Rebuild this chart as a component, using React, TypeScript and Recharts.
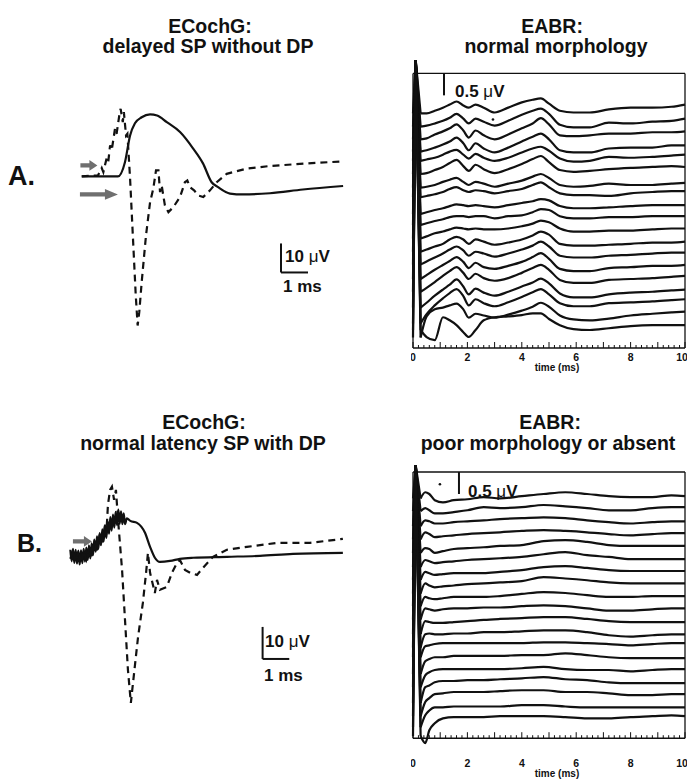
import React from "react";
import { LineChart, Line, XAxis, YAxis, ReferenceLine, ReferenceDot } from "recharts";

const FONT = '"Liberation Sans", Arial, Helvetica, sans-serif';
const INK = "#111";
const ARROW_GREY = "#6f6f6f";

// ECochG panel A: [time ms, amplitude uV]
const ecogASolid: [number, number][] = [
	[0.25, 0], [1.59, 0], [1.85, 4.9], [2.04, 14.1], [2.22, 18.3], [2.47, 20.4], [2.78, 21.4],
	[3.04, 21.0], [3.4, 18.7], [3.89, 15.3], [4.37, 9.7], [4.74, 4.5], [5.06, -2.0], [5.3, -3.7],
	[5.74, -5.9], [6.22, -6.2], [7.22, -5.8], [8.44, -4.5], [9.93, -3.3],
];
const ecogADashed: [number, number][] = [
	[0.25, 0], [0.6, 0.3], [0.85, 0.3], [0.99, 2.9], [1.05, 1.5], [1.17, 6.2], [1.23, 4.9],
	[1.3, 10.7], [1.36, 9], [1.48, 16.4], [1.54, 14.7], [1.64, 21], [1.69, 23.3], [1.77, 18.7],
	[1.81, 22.2], [1.89, 14.1], [1.94, 14.7], [2.04, -0.7], [2.16, -23.8], [2.25, -41],
	[2.32, -51.4], [2.38, -46.8], [2.47, -36.4], [2.63, -20.3], [2.78, -8.9], [2.9, -4.2],
	[3.0, 2.1], [3.09, 2.1], [3.15, -5.4], [3.21, -3.1], [3.33, -10], [3.46, -12.3],
	[3.64, -10.6], [3.89, -7.1], [4.07, -2.0], [4.16, -1.4], [4.26, -3.7], [4.41, -4.8],
	[4.57, -6.6], [4.75, -7.1], [5.0, -4.8], [5.25, -2.0], [5.62, 0.9], [6.36, 2.7],
	[7.22, 3.6], [8.46, 4.4], [9.94, 5.2],
];

// ECochG panel B
const ecogBSolid: [number, number][] = [
	[0.2, 1.6], [0.25, -2.0], [0.3, 1.9], [0.35, -2.5], [0.4, 1.6], [0.45, -2.7], [0.5, 1.3],
	[0.55, -3.0], [0.6, 1.4], [0.65, -2.6], [0.7, 1.9], [0.75, -2.1], [0.8, 2.3], [0.85, -1.6],
	[0.9, 2.8], [0.95, -1.1], [1.0, 3.6], [1.05, -0.1], [1.1, 4.7], [1.15, 1.0], [1.2, 5.8],
	[1.25, 1.9], [1.3, 6.8], [1.35, 3.0], [1.4, 8.0], [1.45, 4.2], [1.5, 9.3], [1.55, 5.3],
	[1.6, 10.5], [1.65, 6.6], [1.7, 11.8], [1.75, 7.6], [1.8, 12.6], [1.85, 8.5], [1.9, 13.4],
	[1.95, 9.3], [2.0, 14.1], [2.05, 9.7], [2.1, 13.6], [2.15, 9.6], [2.2, 13.0], [2.25, 9.6],
	[2.32, 11.4], [2.45, 10.6], [2.7, 10.0], [3.0, 6.9], [3.19, 2.5], [3.37, -0.9], [3.56, -2.2],
	[3.94, -1.9], [4.31, -1.25], [4.8, -0.9], [6.07, -0.6], [7.31, -0.3], [8.55, 0.3], [10.42, 0.6],
];
const ecogBDashed: [number, number][] = [
	[0.2, -1.2], [0.3, 1.4], [0.4, -2.2], [0.5, 1.5], [0.6, -2.4], [0.7, 1.2], [0.8, -1.4],
	[0.9, 2.2], [1.0, -0.4], [1.1, 3.9], [1.2, 1.4], [1.3, 6.3], [1.4, 3.9], [1.5, 9.2], [1.55, 6.4],
	[1.61, 15.6], [1.69, 20.3], [1.76, 21.3], [1.84, 17.2], [1.91, 20.3], [1.99, 10.9],
	[2.14, -4.7], [2.25, -20.3], [2.36, -35.9], [2.47, -46.25], [2.55, -40], [2.74, -25.6],
	[2.92, -15], [3.04, -5.6], [3.11, 0.6], [3.19, -5.6], [3.37, -11.9], [3.45, -7.8],
	[3.56, -10.9], [3.82, -10], [4.01, -5.6], [4.2, -2.5], [4.31, -1.6], [4.5, -4.7],
	[4.69, -5.6], [4.95, -6.25], [5.17, -4.1], [5.55, -0.6], [6.07, 1.6], [6.82, 2.5],
	[7.95, 3.75], [9.19, 3.75], [10.42, 5.0],
];

// EABR panel A: sample times (ms), stimulus artefact peak (uV), trace baselines (uV) and deflections (uV, from t = 0.28 on)
const eabrATimes = [0, 0.1, 0.28, 0.5, 0.8, 1.1, 1.35, 1.6, 1.85, 2.05, 2.3, 2.6, 3.0, 3.5, 4.0, 4.4, 4.7, 5.0, 5.4, 5.9, 6.5, 7.2, 8.0, 8.8, 9.5, 10];
const eabrAArtifact = 6.55;
const eabrABaselines = [5.54, 5.22, 4.93, 4.61, 4.4, 4.12, 3.76, 3.57, 3.25, 3.0, 2.72, 2.42, 2.17, 1.89, 1.64, 1.33, 1.11, 0.83, 0.52];
const eabrATraces = [
	[-.2, -.2, -.14, -.07, 0, .07, -.02, -.07, 0, -.07, -.18, -.07, .05, .11, .14, .02, -.14, -.18, -.18, -.11, -.07, -.07, -.05, 0],
	[-.18, -.16, -.11, -.05, .02, .11, 0, -.11, 0, -.07, -.16, -.05, .09, .18, .23, .11, -.14, -.2, -.2, -.09, -.11, -.07, -.05, 0],
	[-.18, -.16, -.07, 0, .07, .16, .02, -.14, .02, -.09, -.18, -.07, .07, .18, .3, .16, -.09, -.11, -.09, -.05, -.05, -.02, -.02, 0],
	[-.14, -.11, -.05, .02, .09, .18, .05, -.11, .05, -.07, -.16, -.05, .09, .2, .27, .14, -.11, -.16, -.16, -.07, -.05, -.05, 0, 0],
	[-.14, -.11, -.07, 0, .07, .11, 0, -.09, .02, -.07, -.14, -.07, .05, .14, .18, .09, -.09, -.16, -.14, -.05, -.07, -.05, -.02, 0],
	[-.16, -.14, -.07, 0, .09, .16, .02, -.09, .05, -.05, -.14, -.05, .07, .18, .25, .11, -.07, -.11, -.09, -.05, -.02, 0, .02, 0],
	[-.11, -.09, -.05, .02, .07, .11, .02, -.05, .02, -.02, -.09, -.02, .05, .14, .2, .11, -.05, -.09, -.07, -.02, -.05, -.05, -.02, 0],
	[-.14, -.11, -.07, -.02, .05, .09, .02, -.02, .02, 0, -.05, 0, .05, .14, .2, .09, -.05, -.09, -.09, -.11, -.05, -.02, 0, 0],
	[-.2, -.16, -.11, -.07, -.02, .02, 0, -.02, 0, -.02, -.05, 0, .05, .09, .14, .11, -.02, -.07, -.07, -.05, -.02, 0, 0, 0],
	[-.2, -.16, -.11, -.07, -.02, 0, 0, -.02, 0, 0, -.05, 0, .02, .09, .16, .14, 0, -.05, -.05, -.02, -.02, 0, 0, 0],
	[-.23, -.18, -.11, -.07, -.02, .02, 0, -.02, 0, -.02, -.02, 0, .05, .11, .18, .14, 0, -.07, -.07, -.05, -.05, -.02, 0, 0],
	[-.23, -.18, -.11, -.05, .05, .11, .05, -.05, .05, 0, -.07, -.02, .05, .14, .23, .16, -.05, -.09, -.09, -.07, -.05, -.02, -.02, 0],
	[-.27, -.2, -.11, -.02, .07, .14, .05, -.07, .02, -.02, -.09, -.02, .07, .16, .25, .14, -.07, -.11, -.11, -.07, -.05, -.02, 0, 0],
	[-.32, -.23, -.11, 0, .09, .18, .07, -.07, .05, -.05, -.09, -.02, .07, .18, .27, .14, -.09, -.14, -.14, -.07, -.05, -.02, -.02, 0],
	[-.36, -.27, -.14, 0, .11, .2, .07, -.07, .05, -.05, -.11, -.05, .07, .18, .25, .14, -.09, -.16, -.16, -.09, -.07, -.05, -.02, 0],
	[-.41, -.3, -.14, 0, .11, .23, .07, -.11, .02, -.07, -.14, -.05, .07, .16, .25, .14, -.09, -.18, -.18, -.11, -.07, -.05, -.02, 0],
	[-.55, -.34, -.14, .02, .14, .23, .07, -.14, 0, -.09, -.16, -.07, .05, .16, .23, .11, -.09, -.16, -.16, -.09, -.07, -.05, -.02, 0],
	[-.59, -.11, .05, .09, .14, .18, .05, -.14, -.05, -.09, -.14, -.07, .02, .11, .2, .11, -.09, -.18, -.2, -.16, -.09, -.05, -.02, 0],
	[-.11, -.27, -.34, .18, .11, 0, -.16, -.27, -.11, .11, .18, .2, .23, .27, .27, .14, 0, -.09, -.11, -.07, -.02, 0, 0, 0],
];

// EABR panel B
const eabrBTimes = [0, 0.1, 0.28, 0.45, 0.6, 0.8, 1.1, 1.5, 2.0, 2.6, 3.2, 4.0, 4.8, 5.6, 6.4, 7.2, 8.0, 8.8, 9.5, 10];
const eabrBArtifact = 6.2;
const eabrBBaselines = [5.5, 5.25, 4.93, 4.66, 4.39, 4.07, 3.8, 3.52, 3.23, 2.95, 2.64, 2.36, 2.16, 1.82, 1.57, 1.25, 1.0, 0.7, 0.5];
const eabrBTraces = [
	[-.05, .09, .05, -.09, -.14, -.09, -.07, -.02, -.05, 0, .05, .09, .05, 0, -.02, -.02, .02, 0],
	[-.09, -.02, -.07, -.14, -.14, -.11, -.07, 0, -.02, 0, .05, .02, -.02, -.07, -.07, -.02, 0, 0],
	[-.11, .02, 0, -.05, -.05, -.02, 0, .02, .05, .07, .09, .07, .02, -.02, -.05, -.02, 0, 0],
	[-.14, .02, -.02, -.09, -.07, -.05, -.02, 0, .02, .05, .07, .05, .02, -.02, -.05, -.02, 0, 0],
	[-.18, -.07, -.09, -.18, -.14, -.09, -.07, -.05, -.02, 0, .09, .11, .07, 0, -.02, -.02, -.02, -.02],
	[-.18, -.02, -.05, -.09, -.07, -.05, -.02, 0, .02, .05, .11, .16, .09, .05, 0, 0, 0, 0],
	[-.2, -.02, -.05, -.09, -.07, -.05, -.05, -.05, -.02, .02, .09, .11, .07, .02, 0, 0, 0, 0],
	[-.23, 0, -.05, -.09, -.07, -.05, -.02, 0, .02, .05, .14, .11, .07, .02, 0, 0, 0, 0],
	[-.23, -.02, -.05, -.07, -.05, -.02, -.02, -.02, 0, .05, .09, .07, .02, -.02, -.02, 0, 0, 0],
	[-.25, 0, -.02, -.05, -.02, 0, 0, .02, .02, .05, .07, .05, 0, -.05, -.05, -.02, 0, 0],
	[-.27, .02, 0, -.02, -.02, 0, .02, .05, .07, .09, .11, .11, .07, .02, 0, 0, 0, 0],
	[-.3, 0, .02, 0, 0, .02, .02, .05, .05, .07, .09, .09, .05, -.02, -.05, -.02, 0, 0],
	[-.32, -.07, -.05, -.02, 0, 0, 0, 0, 0, 0, .02, .02, 0, -.02, -.05, -.02, 0, 0],
	[-.36, -.07, -.02, .02, .02, .05, .05, .05, .05, .07, .07, .11, .07, .02, 0, 0, 0, 0],
	[-.41, -.14, -.07, -.02, 0, 0, 0, 0, 0, .02, .05, 0, -.02, -.02, -.05, -.02, 0, 0],
	[-.45, -.09, -.05, .02, .05, .05, .07, .07, .09, .11, .14, .09, .07, .02, 0, 0, 0, 0],
	[-.5, -.18, -.09, 0, .02, .05, .05, .05, .07, .09, .09, .05, .05, .02, -.02, -.02, 0, 0],
	[-.45, -.18, -.07, 0, 0, .02, .02, .02, .02, .05, .05, .02, 0, 0, 0, 0, 0, 0],
	[-.45, -.61, -.32, -.16, -.05, -.02, -.02, -.02, 0, 0, 0, -.02, -.05, -.05, -.02, 0, .02, 0],
];

const timeLabels = [0, 2, 4, 6, 8, 10];
const timeTicks = Array.from({ length: 51 }, (_, i) => i / 5);

const pairs = (pts: [number, number][]) => pts.map(([t, v]) => ({ t, v }));
// a trace leaves its starting level, runs up to the artefact peak and comes back down
const buildTrace = (times: number[], artifact: number, base: number, defl: number[]) =>
	times.map((t, i) => ({
		t,
		v: i === 1 ? artifact : +(base + defl[i === 0 ? 0 : i - 2]).toFixed(3),
	}));

const Arrow = ({ cx, cy, len, head, half, shaft }: any) => {
	const x0 = cx - len;
	const xh = cx - head;
	const pts = [
		[x0, cy - shaft], [xh, cy - shaft], [xh, cy - half], [cx, cy],
		[xh, cy + half], [xh, cy + shaft], [x0, cy + shaft],
	];
	return <polygon points={pts.map((p) => p.join(",")).join(" ")} fill={ARROW_GREY} />;
};

const TimeTick = (props: any) => {
	const { x, y, payload, shift, labelGap } = props;
	const val = payload.value as number;
	const whole = Math.abs(val - Math.round(val)) < 1e-6;
	const base = y - shift;
	const showLabel = whole && timeLabels.includes(Math.round(val));
	return (
		<g>
			<line x1={x} x2={x} y1={base} y2={base - (whole ? 6 : 3)} stroke={INK} strokeWidth={1} />
			{showLabel && (
				<text
					x={x - (Math.round(val) === 10 ? 3 : 0)}
					y={base + labelGap}
					textAnchor="middle"
					fontFamily={FONT}
					fontWeight="bold"
					fontSize={10.5}
					fill={INK}
				>
					{Math.round(val)}
				</text>
			)}
		</g>
	);
};

const EcogPanel = ({ solid, dashed, xMax, yDomain, width, height, arrows, bar }: any) => (
	<LineChart width={width} height={height} margin={{ top: 0, right: 0, bottom: 0, left: 0 }}>
		<XAxis type="number" dataKey="t" domain={[0, xMax]} hide />
		<YAxis type="number" domain={yDomain} hide />
		<Line data={pairs(solid)} dataKey="v" type="monotone" stroke={INK} strokeWidth={2.2} dot={false} isAnimationActive={false} />
		<Line data={pairs(dashed)} dataKey="v" type="linear" stroke={INK} strokeWidth={2.2} strokeDasharray="7 5" dot={false} isAnimationActive={false} />
		<ReferenceLine segment={[{ x: bar.t, y: bar.v }, { x: bar.t, y: bar.v + 10 }]} stroke={INK} strokeWidth={2} />
		<ReferenceLine segment={[{ x: bar.t, y: bar.v }, { x: bar.t + 1, y: bar.v }]} stroke={INK} strokeWidth={2} />
		{arrows.map((a: any, i: number) => (
			<ReferenceDot key={i} x={a.t} y={a.v} r={0} shape={(p: any) => <Arrow cx={p.cx} cy={p.cy} len={a.len} head={a.head} half={5.3} shaft={2.2} />} />
		))}
	</LineChart>
);

const EabrPanel = ({ times, artifact, baselines, traces, yDomain, boxTop, plotHeight, shift, labelGap, bar, speck }: any) => {
	const built = traces.map((d: number[], i: number) => buildTrace(times, artifact, baselines[i], d));
	return (
		<LineChart width={276} height={2 + plotHeight + 40} margin={{ top: 2, right: 2, bottom: 0, left: 2 }}>
			<XAxis
				type="number"
				dataKey="t"
				domain={[0, 10]}
				ticks={timeTicks}
				interval={0}
				tickSize={0}
				tickMargin={0}
				axisLine={false}
				height={40}
				tick={(p: any) => <TimeTick {...p} shift={shift} labelGap={labelGap} />}
			/>
			<YAxis type="number" domain={yDomain} hide />
			<ReferenceLine y={0} stroke={INK} strokeWidth={1.6} />
			<ReferenceLine segment={[{ x: 0, y: boxTop }, { x: 10, y: boxTop }]} stroke={INK} strokeWidth={1.3} />
			<ReferenceLine segment={[{ x: 10, y: 0 }, { x: 10, y: boxTop }]} stroke={INK} strokeWidth={1.3} />
			<ReferenceLine segment={[{ x: 0, y: 0 }, { x: 0, y: boxTop }]} stroke={INK} strokeWidth={1.3} />
			<ReferenceLine segment={[{ x: bar, y: boxTop }, { x: bar, y: boxTop - 0.5 }]} stroke={INK} strokeWidth={2} />
			<ReferenceDot x={speck.t} y={speck.v} r={1.3} fill={INK} stroke="none" />
			{built.map((pts: any[], i: number) => (
				<Line
					key={`a${i}`}
					data={pts.slice(0, 3)}
					dataKey="v"
					type="linear"
					stroke={INK}
					strokeWidth={2.2}
					dot={false}
					isAnimationActive={false}
				/>
			))}
			{built.map((pts: any[], i: number) => (
				<Line
					key={`w${i}`}
					data={pts.slice(2)}
					dataKey="v"
					type="monotone"
					stroke={INK}
					strokeWidth={2.2}
					dot={false}
					isAnimationActive={false}
				/>
			))}
		</LineChart>
	);
};

const texts = [
	{ s: "ECochG:", x: 210, y: 33 },
	{ s: "delayed SP without DP", x: 208, y: 53 },
	{ s: "EABR:", x: 552, y: 33 },
	{ s: "normal morphology", x: 556, y: 53 },
	{ s: "ECochG:", x: 204, y: 429 },
	{ s: "normal latency SP with DP", x: 203, y: 450 },
	{ s: "EABR:", x: 550, y: 429 },
	{ s: "poor morphology or absent", x: 548, y: 450 },
];

export default function App() {
	return (
		<div style={{ position: "absolute", left: 0, top: 0, width: 689, height: 780, background: "#fff" }}>
			<div style={{ position: "absolute", left: 75, top: 101 }}>
				<EcogPanel
					solid={ecogASolid}
					dashed={ecogADashed}
					xMax={10}
					yDomain={[-55, 26]}
					width={270}
					height={235}
					bar={{ t: 7.63, v: -33.1 }}
					arrows={[
						{ t: 0.83, v: 3.8, len: 17, head: 8 },
						{ t: 1.59, v: -6.2, len: 38, head: 13 },
					]}
				/>
			</div>
			<div style={{ position: "absolute", left: 65, top: 470 }}>
				<EcogPanel
					solid={ecogBSolid}
					dashed={ecogBDashed}
					xMax={10.5}
					yDomain={[-50, 26.5]}
					width={280}
					height={245}
					bar={{ t: 7.41, v: -32.5 }}
					arrows={[{ t: 1.01, v: 4.2, len: 19, head: 8 }]}
				/>
			</div>
			<div style={{ position: "absolute", left: 411, top: 56 }}>
				<EabrPanel
					times={eabrATimes}
					artifact={eabrAArtifact}
					baselines={eabrABaselines}
					traces={eabrATraces}
					yDomain={[0, 6.6]}
					boxTop={6.25}
					plotHeight={290}
					shift={0}
					labelGap={13}
					bar={1.14}
					speck={{ t: 2.94, v: 5.2 }}
				/>
			</div>
			<div style={{ position: "absolute", left: 411, top: 459 }}>
				<EabrPanel
					times={eabrBTimes}
					artifact={eabrBArtifact}
					baselines={eabrBBaselines}
					traces={eabrBTraces}
					yDomain={[-0.2, 6.3]}
					boxTop={6.05}
					plotHeight={286}
					shift={8.8}
					labelGap={29}
					bar={1.69}
					speck={{ t: 0.99, v: 5.77 }}
				/>
			</div>
			<svg width={689} height={780} style={{ position: "absolute", left: 0, top: 0, pointerEvents: "none" }} fontFamily={FONT} fill={INK}>
				{texts.map((t, i) => (
					<text key={i} x={t.x} y={t.y} textAnchor="middle" fontWeight="bold" fontSize={19.5}>
						{t.s}
					</text>
				))}
				<text x={8} y={185} fontWeight="bold" fontSize={27}>A.</text>
				<text x={17} y={552} fontWeight="bold" fontSize={25}>B.</text>
				<text x={285} y={262} fontWeight="bold" fontSize={17}>10 <tspan fontWeight="normal">μ</tspan>V</text>
				<text x={283} y={292} fontWeight="bold" fontSize={17}>1 ms</text>
				<text x={265} y={647} fontWeight="bold" fontSize={17}>10 <tspan fontWeight="normal">μ</tspan>V</text>
				<text x={264} y={681} fontWeight="bold" fontSize={17}>1 ms</text>
				<text x={455} y={97} fontWeight="bold" fontSize={17}>0.5 <tspan fontWeight="normal">μ</tspan>V</text>
				<text x={468} y={497} fontWeight="bold" fontSize={17}>0.5 <tspan fontWeight="normal">μ</tspan>V</text>
				<text x={557} y={371} textAnchor="middle" fontWeight="bold" fontSize={10}>time (ms)</text>
				<text x={557} y={777} textAnchor="middle" fontWeight="bold" fontSize={10}>time (ms)</text>
			</svg>
		</div>
	);
}
